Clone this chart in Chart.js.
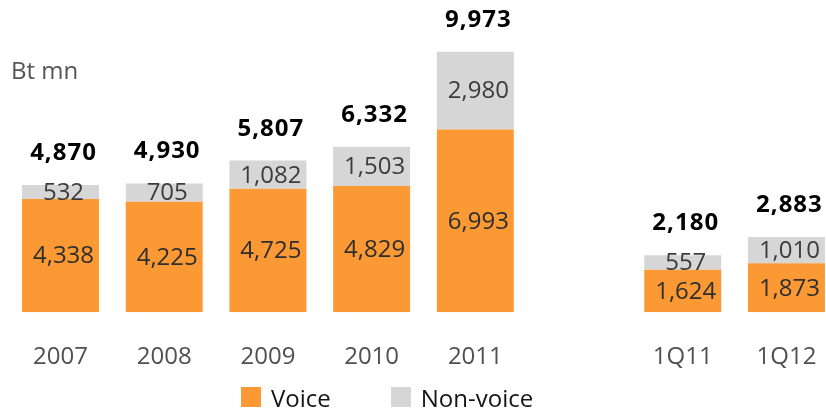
<!DOCTYPE html>
<html>
<head>
<meta charset="utf-8">
<script src="https://cdn.jsdelivr.net/npm/chart.js@4/dist/chart.umd.min.js"></script>
<style>
    html, body { margin: 0; padding: 0; background: #fff; overflow: hidden; }
    #wrap { position: relative; width: 840px; height: 418px; }
    #legend { position: absolute; left: 241px; top: 384px; display: flex; font-family: "Open Sans", sans-serif; font-size: 24px; color: #151515; }
    .item { display: flex; align-items: flex-start; margin-right: 60px; }
    .box { width: 20px; height: 20px; margin-top: 3px; margin-right: 10px; }
    .item span { line-height: 28px; }
</style>
</head>
<body>
<div id="wrap">
    <canvas id="revenueChart" width="840" height="418"></canvas>
    <div id="legend"></div>
</div>
<script>
// Revenue split, Bt mn
const categories = ['2007', '2008', '2009', '2010', '2011', '', '1Q11', '1Q12'];
const voice = [4338, 4225, 4725, 4829, 6993, null, 1624, 1873];
const nonVoice = [532, 705, 1082, 1503, 2980, null, 557, 1010];
const totals = [4870, 4930, 5807, 6332, 9973, null, 2180, 2883];

const ORANGE = '#FB9934';
const GREY = '#D6D6D6';
const FONT = '"Open Sans", sans-serif';

function fmt(v) {
    return v.toLocaleString('en-US');
}

// numbers inside each segment plus the bold total above each stack
const valueLabels = {
    id: 'valueLabels',
    afterDatasetsDraw(chart) {
        const ctx = chart.ctx;
        const yScale = chart.scales.y;
        ctx.save();
        ctx.textAlign = 'center';
        ctx.textBaseline = 'middle';
        ctx.font = '24px ' + FONT;
        chart.data.datasets.forEach((ds, di) => {
            const meta = chart.getDatasetMeta(di);
            meta.data.forEach((bar, i) => {
                const v = ds.data[i];
                if (v == null) return;
                ctx.fillStyle = di === 0 ? '#2e2e2e' : '#3c3c3c';
                ctx.fillText(fmt(v), bar.x + 3, (bar.y + bar.base) / 2 + 1);
            });
        });

        ctx.font = 'bold 24px ' + FONT;
        ctx.letterSpacing = '1px';
        ctx.fillStyle = '#000';
        ctx.textBaseline = 'alphabetic';
        const meta0 = chart.getDatasetMeta(0);
        totals.forEach((t, i) => {
            if (t == null) return;
            const x = meta0.data[i].x;
            const top = yScale.getPixelForValue(voice[i] + nonVoice[i]);
            ctx.fillText(fmt(t), x + 3, top - 25);
        });
        ctx.letterSpacing = '0px';

        // unit caption
        ctx.font = '24px ' + FONT;
        ctx.fillStyle = '#555';
        ctx.textAlign = 'left';
        ctx.fillText('Bt mn', 11, 79);
        ctx.restore();
    }
};

const chart = new Chart(document.getElementById('revenueChart'), {
    type: 'bar',
    data: {
        labels: categories,
        datasets: [
            { label: 'Voice', data: voice, backgroundColor: ORANGE },
            { label: 'Non-voice', data: nonVoice, backgroundColor: GREY }
        ]
    },
    options: {
        responsive: false,
        animation: false,
        events: [],
        layout: { padding: { left: 8.65, right: 1.7, top: 0, bottom: 46 } },
        datasets: {
            bar: { categoryPercentage: 1, barPercentage: 0.742, borderWidth: 0 }
        },
        scales: {
            x: {
                stacked: true,
                // invisible tick marks just push the labels down
                grid: { display: false, drawTicks: true, tickLength: 31 },
                border: { display: false },
                ticks: {
                    padding: 0,
                    color: '#505050',
                    font: { family: FONT, size: 24 }
                }
            },
            y: {
                stacked: true,
                display: false,
                min: 0,
                max: 11954
            }
        },
        plugins: {
            legend: { display: false },
            tooltip: { enabled: false }
        }
    },
    plugins: [valueLabels]
});

// legend built from the datasets
const legendEl = document.getElementById('legend');
chart.data.datasets.forEach(ds => {
    const item = document.createElement('div');
    item.className = 'item';
    const box = document.createElement('div');
    box.className = 'box';
    box.style.background = ds.backgroundColor;
    const label = document.createElement('span');
    label.textContent = ds.label;
    item.appendChild(box);
    item.appendChild(label);
    legendEl.appendChild(item);
});
</script>
</body>
</html>
